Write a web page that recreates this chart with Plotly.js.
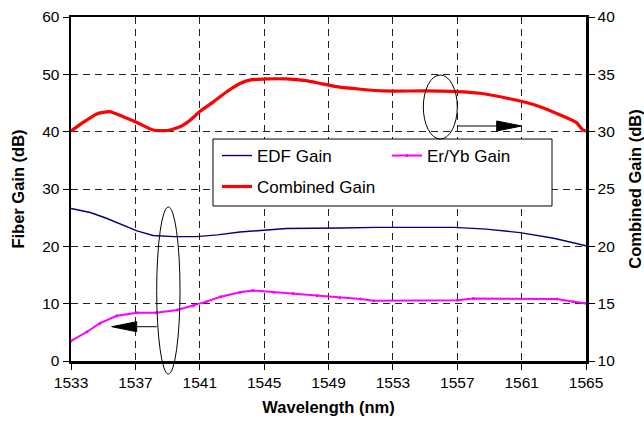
<!DOCTYPE html>
<html>
<head>
<meta charset="utf-8">
<script src="https://cdn.plot.ly/plotly-3.0.1.min.js"></script>
<style>html,body{margin:0;padding:0;background:#fff;}#chart{width:644px;height:428px;}</style>
</head>
<body>
<div id="chart"></div>
<script>
// Wavelength tick labels (nm)
const wavelengthTicks = [1533, 1537, 1541, 1545, 1549, 1553, 1557, 1561, 1565];

// EDF Gain (left axis, dB)
const edfWavelength = [1533, 1534.2, 1535.2, 1536.25, 1537.1, 1538.1, 1539.4, 1540.8, 1542.1, 1543.5, 1545.0, 1546.4, 1549.7, 1552, 1556.8, 1558.8, 1560.9, 1563.0, 1565];
const edfGain = [26.6, 25.9, 24.9, 23.7, 22.7, 21.9, 21.7, 21.7, 22.0, 22.5, 22.85, 23.1, 23.2, 23.3, 23.3, 23.0, 22.4, 21.4, 20.1];

// Er/Yb Gain (left axis, dB)
const erybWavelength = [1533, 1534, 1534.8, 1535.85, 1537.1, 1538.3, 1539.6, 1540.6, 1541.4, 1542.3, 1543.5, 1544.3, 1545.6, 1546.8, 1548.3, 1549.7, 1551.0, 1551.8, 1557.0, 1558.0, 1563.2, 1564.2, 1565];
const erybGain = [3.5, 5.1, 6.6, 7.9, 8.4, 8.4, 8.9, 9.65, 10.35, 11.2, 12.0, 12.3, 12.0, 11.8, 11.4, 11.05, 10.8, 10.5, 10.6, 10.9, 10.8, 10.35, 10.05];

// Combined Gain (right axis, dB)
const combinedWavelength = [1533, 1533.8, 1534.6, 1535.4, 1536.25, 1537.1, 1538.1, 1539.0, 1539.8, 1540.4, 1541.0, 1541.85, 1542.7, 1543.5, 1544.1, 1545.2, 1546.4, 1547.6, 1548.5, 1549.6, 1551.0, 1552.4, 1554.9, 1557.0, 1558.4, 1560.5, 1562.1, 1563.4, 1564.4, 1564.8, 1565];
const combinedGain = [30.05, 30.85, 31.55, 31.75, 31.3, 30.8, 30.15, 30.1, 30.45, 31.0, 31.75, 32.6, 33.5, 34.2, 34.5, 34.6, 34.6, 34.45, 34.2, 33.9, 33.7, 33.55, 33.55, 33.5, 33.35, 32.8, 32.2, 31.45, 30.8, 30.15, 30.05];

const FONT = 'Liberation Sans, Arial, sans-serif';

const traces = [
  {x: edfWavelength, y: edfGain, name: 'EDF Gain', type: 'scatter', mode: 'lines',
   line: {color: '#000080', width: 1.4}, legend: 'legend'},
  {x: erybWavelength, y: erybGain, name: 'Er/Yb Gain', type: 'scatter', mode: 'lines+markers',
   line: {color: '#FF00FF', width: 2}, marker: {color: '#FF00FF', size: 3}, legend: 'legend'},
  {x: combinedWavelength, y: combinedGain, name: 'Combined Gain', type: 'scatter', mode: 'lines',
   line: {color: '#FF0000', width: 3.2, shape: 'spline', smoothing: 0.5}, yaxis: 'y2', legend: 'legend2'}
];

const gridDash = '7px,5px';
const titleFont = {family: FONT, size: 16.5, weight: 'bold', color: '#000'};
const tickFont = {family: FONT, size: 15.5, color: '#000'};
const layout = {
  width: 644, height: 428,
  margin: {l: 71, r: 58, t: 17, b: 67},
  paper_bgcolor: '#fff', plot_bgcolor: '#fff',
  font: {family: FONT, size: 15, color: '#000'},
  showlegend: true,
  xaxis: {
    range: [1533, 1565], tickvals: wavelengthTicks, ticktext: wavelengthTicks.map(String),
    showgrid: true, gridcolor: '#222', gridwidth: 1, griddash: gridDash,
    showline: true, linecolor: '#000', linewidth: 2.5, mirror: true,
    ticks: 'outside', ticklen: 6, tickcolor: '#000', tickwidth: 1,
    zeroline: false,
    title: {text: 'Wavelength (nm)', font: titleFont, standoff: 12},
    tickfont: tickFont
  },
  yaxis: {
    range: [0, 60], tickvals: [0, 10, 20, 30, 40, 50, 60],
    showgrid: true, gridcolor: '#222', gridwidth: 1, griddash: gridDash,
    showline: true, linecolor: '#000', linewidth: 2.5,
    ticks: 'outside', ticklen: 6, tickcolor: '#000', tickwidth: 1,
    zeroline: false,
    title: {text: 'Fiber Gain (dB)', font: titleFont, standoff: 14},
    tickfont: tickFont
  },
  yaxis2: {
    range: [10, 40], tickvals: [10, 15, 20, 25, 30, 35, 40],
    overlaying: 'y', side: 'right',
    showgrid: false, zeroline: false,
    showline: true, linecolor: '#000', linewidth: 2.5,
    ticks: 'outside', ticklen: 6, tickcolor: '#000', tickwidth: 1,
    title: {text: 'Combined Gain (dB)', font: titleFont, standoff: 16},
    tickfont: tickFont
  },
  legend: {
    orientation: 'h', x: 0.2835, xanchor: 'left', y: 0.596, yanchor: 'middle',
    bgcolor: 'rgba(0,0,0,0)', borderwidth: 0, entrywidth: 125, entrywidthmode: 'pixels',
    font: {family: FONT, size: 17}, itemclick: false
  },
  legend2: {
    orientation: 'h', x: 0.2835, xanchor: 'left', y: 0.506, yanchor: 'middle',
    bgcolor: 'rgba(0,0,0,0)', borderwidth: 0,
    font: {family: FONT, size: 17}, itemclick: false
  },
  shapes: [
    // legend frame
    {type: 'rect', xref: 'paper', yref: 'paper', x0: 0.2757, x1: 0.934, y0: 0.4506, y1: 0.6453,
     line: {color: '#000', width: 1}, fillcolor: '#fff', layer: 'above'},
    // ellipse around combined curve
    {type: 'circle', xref: 'paper', yref: 'paper', x0: 0.6841, x1: 0.7501, y0: 0.6453, y1: 0.8314,
     line: {color: '#000', width: 1}, layer: 'above'},
    {type: 'line', xref: 'paper', yref: 'paper', x0: 0.7501, x1: 0.8272, y0: 0.6831, y1: 0.6831,
     line: {color: '#000', width: 1}, layer: 'above'},
    {type: 'path', xref: 'paper', yref: 'paper', path: 'M 0.8751 0.6831 L 0.8266 0.6977 L 0.8266 0.6686 Z',
     fillcolor: '#000', line: {color: '#000', width: 1}, layer: 'above'},
    // ellipse around fiber curves
    {type: 'circle', xref: 'paper', yref: 'paper', x0: 0.1664, x1: 0.2117, y0: -0.0378, y1: 0.4477,
     line: {color: '#000', width: 1}, layer: 'above'},
    {type: 'line', xref: 'paper', yref: 'paper', x0: 0.1664, x1: 0.1276, y0: 0.0997, y1: 0.0997,
     line: {color: '#000', width: 1}, layer: 'above'},
    {type: 'path', xref: 'paper', yref: 'paper', path: 'M 0.0790 0.0997 L 0.1276 0.1142 L 0.1276 0.0852 Z',
     fillcolor: '#000', line: {color: '#000', width: 1}, layer: 'above'}
  ]
};

Plotly.newPlot('chart', traces, layout, {displayModeBar: false, staticPlot: true});
</script>
</body>
</html>
